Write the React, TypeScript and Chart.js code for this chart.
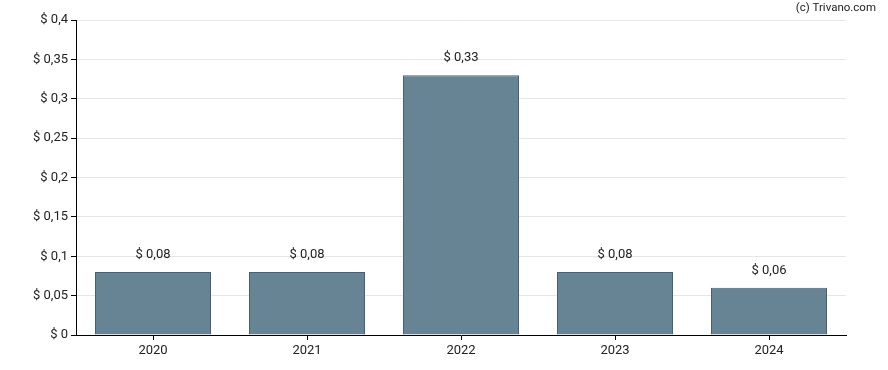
import React, { useEffect, useRef } from "react";
import { Chart, registerables } from "chart.js";
Chart.register(...registerables);

const categories = ["2020", "2021", "2022", "2023", "2024"];
const values = [0.08, 0.08, 0.33, 0.08, 0.06];
const yTicks = [0, 0.05, 0.1, 0.15, 0.2, 0.25, 0.3, 0.35, 0.4];

const fmt = (v: number) => "$ " + String(Math.round(v * 100) / 100).replace(".", ",");

const FONT = "Roboto, 'Noto Sans', sans-serif";

const labelPlugin = {
  id: "barLabels",
  afterDatasetsDraw(chart: any) {
    const ctx = chart.ctx;
    const meta = chart.getDatasetMeta(0);
    ctx.save();
    ctx.font = `13px ${FONT}`;
    ctx.fillStyle = "#222";
    ctx.textAlign = "center";
    ctx.textBaseline = "middle";
    meta.data.forEach((el: any, i: number) => {
      ctx.fillText(fmt(values[i]), el.x, el.y - 17);
    });
    ctx.font = `11.5px ${FONT}`;
    ctx.textAlign = "right";
    ctx.fillText("(c) Trivano.com", 876, 8);
    ctx.restore();
  },
};

export default function App() {
  const ref = useRef<HTMLCanvasElement>(null);
  useEffect(() => {
    const chart = new Chart(ref.current!, {
      type: "bar",
      data: {
        labels: categories,
        datasets: [
          {
            data: values,
            backgroundColor: "#678494",
            borderColor: "#46607a",
            borderWidth: 1,
            inflateAmount: 0,
            categoryPercentage: 116 / 154,
            barPercentage: 1,
          },
        ],
      },
      options: {
        animation: false,
        responsive: false,
        maintainAspectRatio: false,
        layout: { padding: { top: 20, right: 42, left: 0, bottom: 0 } },
        plugins: { legend: { display: false }, tooltip: { enabled: false } },
        scales: {
          x: {
            grid: { display: true, drawOnChartArea: false, offset: false, tickLength: 5, tickColor: "#000" },
            border: { color: "#000", width: 1 },
            ticks: { font: { family: FONT, size: 13 }, color: "#222", padding: 3 },
            afterFit: (s: any) => { s.height = 35; },
          },
          y: {
            min: 0,
            max: 0.4,
            afterBuildTicks: (s: any) => { s.ticks = yTicks.map((v) => ({ value: v })); },
            grid: { color: "#e6e6e6", tickLength: 5, tickColor: "#000" },
            border: { color: "#000", width: 1 },
            ticks: {
              font: { family: FONT, size: 13 },
              color: "#222",
              padding: 3,
              callback: (v: any) => fmt(Number(v)),
            },
            afterFit: (s: any) => { s.width = 76; },
          },
        },
      },
      plugins: [labelPlugin],
    });
    return () => chart.destroy();
  }, []);
  return (
    <div style={{ position: "absolute", left: 0, top: 0, width: 888, height: 370, background: "#fff" }}>
      <canvas ref={ref} width={888} height={370} style={{ width: 888, height: 370 }} />
    </div>
  );
}
